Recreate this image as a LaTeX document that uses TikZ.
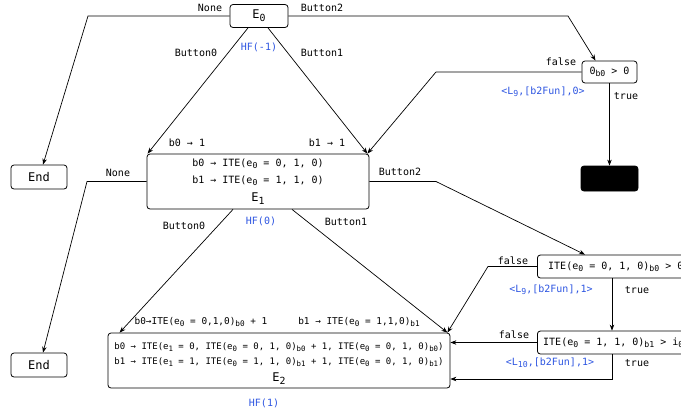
\documentclass[tikz,border=0pt]{standalone}
\usepackage{fontspec}
\setmainfont{DejaVu Sans Mono}
\usetikzlibrary{arrows.meta}
\definecolor{hfblue}{RGB}{45,85,225}
\newcommand\sbs[1]{\raisebox{-0.45ex}{\scalebox{0.82}{#1}}}
\begin{document}
\begin{tikzpicture}[x=1pt,y=-1pt,
  box/.style={draw, rounded corners=3pt, line width=0.8pt, inner sep=0pt},
  lbl/.style={font=\fontsize{10}{11}\selectfont, inner sep=0pt},
  blu/.style={lbl, text=hfblue},
  inner/.style={font=\fontsize{10}{11}\selectfont, inner sep=0pt},
  innersm/.style={font=\fontsize{9}{10}\selectfont, inner sep=0pt},
  big/.style={font=\fontsize{12}{12}\selectfont, inner sep=0pt},
  edge/.style={draw, line width=0.7pt},
  arr/.style={edge, -{Stealth[length=6pt,width=4.5pt]}},
]
\useasboundingbox (0,0) rectangle (681,413);
\clip (0,0) rectangle (681,413);

% nodes
\node[box, big, minimum width=58pt, minimum height=23pt] (e0) at (259,16) {E\sbs{0}};
\node[box, big, minimum width=56pt, minimum height=24pt] (end1) at (39,177) {End};
\node[box, big, minimum width=56pt, minimum height=24pt] (end2) at (39,365) {End};
\node[box, minimum width=222pt, minimum height=55pt] (e1) at (258,181.5) {};
\node[inner] (e1a) at (258,164) {b0 → ITE(e\sbs{0} = 0, 1, 0)};
\node[inner] (e1b) at (258,181) {b1 → ITE(e\sbs{0} = 1, 1, 0)};
\node[big] (e1c) at (258,199) {E\sbs{1}};
\node[box, minimum width=342pt, minimum height=55pt] (e2) at (279,360.5) {};
\node[innersm] (e2a) at (279,347) {b0 → ITE(e\sbs{1} = 0, ITE(e\sbs{0} = 0, 1, 0)\sbs{b0} + 1, ITE(e\sbs{0} = 0, 1, 0)\sbs{b0})};
\node[innersm] (e2b) at (279,362) {b1 → ITE(e\sbs{1} = 1, ITE(e\sbs{0} = 1, 1, 0)\sbs{b1} + 1, ITE(e\sbs{0} = 0, 1, 0)\sbs{b1})};
\node[big] (e2c) at (279,379) {E\sbs{2}};
\node[box, minimum width=55pt, minimum height=22pt] (c0) at (609.5,72) {};
\node[inner] (c0t) at (609.5,72) {0\sbs{b0} > 0};
\node[box, fill=black, minimum width=57pt, minimum height=25pt] (blk) at (609.5,178.5) {};
\node[box, minimum width=170pt, minimum height=23pt, anchor=west] (c1) at (537,266.5) {};
\node[inner, anchor=west] (c1t) at (548,267) {ITE(e\sbs{0} = 0, 1, 0)\sbs{b0} > 0};
\node[box, minimum width=170pt, minimum height=23pt, anchor=west] (c2) at (537,342.5) {};
\node[inner, anchor=west] (c2t) at (543,343) {ITE(e\sbs{0} = 1, 1, 0)\sbs{b1} > i\sbs{0}};

% coordinates
\coordinate (k0) at (88,16);
\coordinate (k1) at (568,16);
\coordinate (k2) at (436,72);
\coordinate (k3) at (87,181.5);
\coordinate (k4) at (436,181.5);
\coordinate (k5) at (488,266.5);
\coordinate (t2) at (612,379);

% edges from E0
\draw[arr] (e0.west) -- (k0) -- ([xshift=4pt]end1.north);
\draw[arr] ([xshift=-11pt]e0.south) -- ([xshift=1pt]e1.north west);
\draw[arr] ([xshift=9pt]e0.south) -- ([xshift=-2pt]e1.north east);
\draw[arr] (e0.east) -- (k1) -- ([xshift=-14pt]c0.north);
\draw[arr] (c0.west) -- (k2) -- ([xshift=-2pt]e1.north east);
\draw[arr] (c0.south) -- (blk.north);

% edges from E1
\draw[arr] (e1.west) -- (k3) -- ([xshift=4pt]end2.north);
\draw[arr] (e1.east) -- (k4) -- ([xshift=48pt]c1.north west);
\draw[arr] ([xshift=-25pt]e1.south) -- ([xshift=12pt]e2.north west);
\draw[arr] ([xshift=34pt]e1.south) -- ([xshift=-3pt]e2.north east);
\draw[arr] (c1.west) -- (k5) -- ([xshift=-3pt]e2.north east);
\draw[arr] ([xshift=75pt]c1.south west) -- ([xshift=75pt]c2.north west);
\draw[arr] (c2.west) -- (e2.east |- c2.west);
\draw[arr] ([xshift=75pt]c2.south west) -- (t2) -- (e2.east |- t2);

% labels
\node[lbl] (l1) at (210,8) {None};
\node[lbl] (l2) at (322,8) {Button2};
\node[lbl] (l3) at (196,53) {Button0};
\node[blu] (l4) at (259,47) {HF(-1)};
\node[lbl] (l5) at (322,53) {Button1};
\node[lbl] (l6) at (561,62) {false};
\node[blu] (l7) at (543,92) {<L\sbs{9},[b2Fun],0>};
\node[lbl] (l8) at (626,96) {true};
\node[lbl] (l9) at (187,143) {b0 → 1};
\node[lbl] (l10) at (327,143) {b1 → 1};
\node[lbl] (l11) at (118,173) {None};
\node[lbl] (l12) at (400,172) {Button2};
\node[lbl] (l13) at (184,226) {Button0};
\node[blu] (l14) at (261,221) {HF(0)};
\node[lbl] (l15) at (346,222) {Button1};
\node[lbl] (l16) at (513,261) {false};
\node[blu] (l17) at (551,290) {<L\sbs{9},[b2Fun],1>};
\node[lbl] (l18) at (637,290) {true};
\node[lbl] (l19) at (514,335) {false};
\node[blu] (l20) at (550,363) {<L\sbs{10},[b2Fun],1>};
\node[lbl] (l21) at (637,363) {true};
\node[font=\fontsize{9.4}{10}\selectfont, inner sep=0pt] (l22) at (201,322) {b0→ITE(e\sbs{0} = 0,1,0)\sbs{b0} + 1};
\node[font=\fontsize{9.4}{10}\selectfont, inner sep=0pt] (l23) at (359,322) {b1 → ITE(e\sbs{0} = 1,1,0)\sbs{b1}};
\node[blu] (l24) at (264,403) {HF(1)};
\end{tikzpicture}
\end{document}
